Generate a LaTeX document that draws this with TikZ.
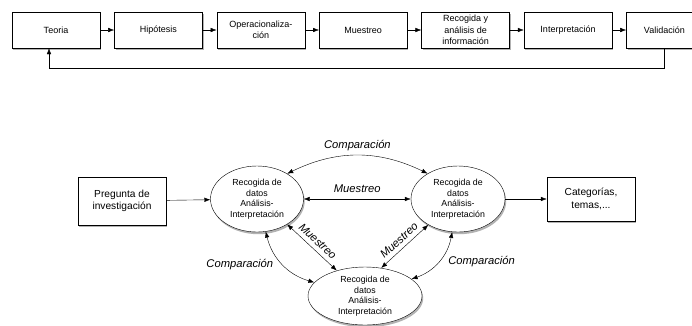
\documentclass[tikz,border=0pt]{standalone}
\usepackage{fontspec}
\setmainfont{Liberation Sans}
\usetikzlibrary{arrows.meta,positioning,shadows,shapes.geometric}

\begin{document}
\begin{tikzpicture}[x=1pt,y=-1pt,>={Latex[length=6pt,width=4.5pt]},node distance=7mm and 14pt,
 sombra/.style={drop shadow={shadow xshift=1.2pt,shadow yshift=-2.2pt,opacity=.5,fill=black!60}},
 paso/.style={draw,fill=white,sombra,align=center,minimum width=88pt,minimum height=36pt,
  inner sep=1pt,font=\fontsize{9}{11.5}\selectfont},
 caja/.style={draw,fill=white,sombra,align=center,minimum width=88pt,minimum height=48pt,
  font=\fontsize{10.2}{12.5}\selectfont},
 fase/.style={ellipse,draw,fill=white,sombra,align=center,inner sep=0pt,
  font=\fontsize{8.8}{10.5}\selectfont},
 etiq/.style={font=\fontsize{11.2}{13}\selectfont\itshape}]
 \useasboundingbox (0,0) rectangle (692,325);
 \node[paso] (teoria) at (56,30) {Teoria};
 \node[paso,right=of teoria] (hipo) {Hipótesis};
 \node[paso,right=of hipo] (oper) {Operacionaliza-\\ción};
 \node[paso,right=of oper] (muest) {Muestreo};
 \node[paso,right=of muest] (recog) {Recogida y\\análisis de\\información};
 \node[paso,right=of recog] (interp) {Interpretación};
 \node[paso,right=of interp,minimum width=76pt] (valid) {Validación};
 \draw[->] (teoria)--(hipo);
 \draw[->] (hipo)--(oper);
 \draw[->] (oper)--(muest);
 \draw[->] (muest)--(recog);
 \draw[->] (recog)--(interp);
 \draw[->] (interp)--(valid);
 \draw[->] (valid.south)--++(0,20)-|([xshift=-7pt]teoria.south);

 \node[caja] (preg) at (122,201) {Pregunta de\\investigación};
 \node[fase,minimum width=93pt,minimum height=66pt] (izq) at (257,199) {Recogida de\\datos\\Análisis-\\Interpretación};
 \node[fase,minimum width=94pt,minimum height=66pt] (der) at (458,199) {Recogida de\\datos\\Análisis-\\Interpretación};
 \node[fase,minimum width=114pt,minimum height=58pt] (abajo) at (365,296) {Recogida de\\datos\\Análisis-\\Interpretación};
 \node[caja,minimum height=44pt] (cat) at (591,199) {Categorías,\\temas,...};
 \draw[->] (preg)--(izq);
 \draw[->] (der)--(cat);
 \draw[<->] (izq)--node[etiq,above=3pt]{Muestreo}(der);
 \draw[<->] (izq.40) to[bend left=26] node[etiq,above=1pt]{Comparación} (der.140);
 \draw[<->] (izq.-40)--node[etiq,sloped,above=1pt]{Muestreo}(abajo.138);
 \draw[<->] (abajo.60)--node[etiq,sloped,above=1pt]{Muestreo}(der.-139);
 \draw[<->] (izq.-75) to[bend right=30] node[etiq,left=6pt]{Comparación} (abajo.165);
 \draw[<->] (der.-100) to[bend left=30] node[etiq,right=6pt]{Comparación} (abajo.20);
\end{tikzpicture}
\end{document}
